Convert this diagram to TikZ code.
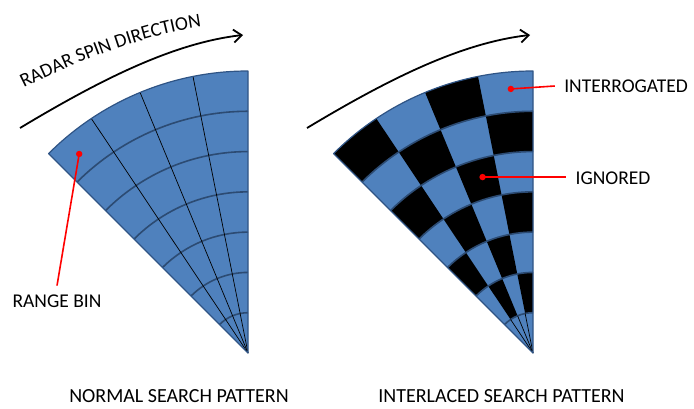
\documentclass[tikz,border=0pt]{standalone}
\usepackage{fontspec}
\setmainfont{Carlito}
\usetikzlibrary{arrows.meta,calc,decorations.text}
\definecolor{sectorfill}{HTML}{4F81BD}
\definecolor{sectorline}{HTML}{2F5485}
\definecolor{ringline}{HTML}{2C4B73}
\definecolor{pointred}{HTML}{FF0000}

\tikzset{
  sector/.style={draw=sectorline,line width=1.2pt,line join=round},
  ring/.style={draw=ringline,line width=1.6pt},
  spoke/.style={draw=black,line width=0.7pt},
  spin/.style={line width=1.8pt,-{Straight Barb[length=8pt,width=13pt,line width=1.8pt]}},
  tag/.style={font=\fontsize{19.5}{20}\selectfont,inner sep=0pt,outer sep=9.5pt},
  title/.style={font=\fontsize{20}{22}\selectfont,inner sep=0pt},
  pointer/.style={draw=pointred,line width=1.6pt},
  pdot/.style={fill=pointred},
}

\begin{document}
\begin{tikzpicture}[x=1pt,y=1pt]
  \useasboundingbox (0,0) rectangle (694,408);
  \def\rad{282}
  \def\gap{40.2857}
  \coordinate (normapex) at (248,55);
  \coordinate (interapex) at (533,55);

  % normal search pattern
  \begin{scope}[shift={(normapex)}]
    \fill[sectorfill] (0,0) -- (90:\rad) arc[start angle=90,end angle=135,radius=\rad] -- cycle;
    \foreach \k in {1,...,6}
      \draw[ring] ({90}:{\k*\gap}) arc[start angle=90,end angle=135,radius={\k*\gap}];
    \foreach \a in {101.25,112.5,123.75}
      \draw[spoke] (0,0) -- (\a:\rad);
    \draw[sector] (0,0) -- (90:\rad) arc[start angle=90,end angle=135,radius=\rad] -- cycle;
  \end{scope}

  % interlaced search pattern
  \begin{scope}[shift={(interapex)}]
    \fill[sectorfill] (0,0) -- (90:\rad) arc[start angle=90,end angle=135,radius=\rad] -- cycle;
    \foreach \i in {2,...,7}
      \foreach \j in {1,...,4} {
        \pgfmathtruncatemacro\odd{mod(\i+\j,2)}
        \ifnum\odd=1
          \fill[black] ({90+(\j-1)*11.25}:{(\i-1)*\gap})
            arc[start angle={90+(\j-1)*11.25},end angle={90+\j*11.25},radius={(\i-1)*\gap}]
            -- ({90+\j*11.25}:{\i*\gap})
            arc[start angle={90+\j*11.25},end angle={90+(\j-1)*11.25},radius={\i*\gap}] -- cycle;
        \fi
      }
    \foreach \k in {1,...,6}
      \draw[ring] ({90}:{\k*\gap}) arc[start angle=90,end angle=135,radius={\k*\gap}];
    \foreach \a in {101.25,112.5,123.75}
      \draw[spoke] (0,0) -- (\a:\gap);
    \draw[sector] (0,0) -- (90:\rad) arc[start angle=90,end angle=135,radius=\rad] -- cycle;
  \end{scope}

  % spin arrows
  \foreach \dx in {0,287}
    \draw[spin] (\dx+20,280) .. controls (\dx+100,328) and (\dx+173,365) .. (\dx+243,373);
  \path[decorate,decoration={text along path,text align=left,
      text={|\fontsize{19.5}{20}\selectfont|RADAR SPIN DIRECTION}}]
    (24,320) .. controls (90,353) and (160,378) .. (218,383);

  % labels
  \coordinate (bindot) at ($(normapex)+(130.3:261)$);
  \coordinate (interdot) at ($(interapex)+(94.8:265)$);
  \coordinate (igndot) at ($(interapex)+(106:183)$);
  \node[tag] (rangebin) at (57,106.5) {RANGE BIN};
  \node[tag] (interr) at (626,322) {INTERROGATED};
  \node[tag] (ignored) at (613,229.5) {IGNORED};
  \node[title] (normal) at (179,12) {NORMAL SEARCH PATTERN};
  \node[title] (interl) at (501.5,12) {INTERLACED SEARCH PATTERN};

  \draw[pointer] (bindot) -- (rangebin.north);
  \draw[pointer] (interdot) -- (interr.west);
  \draw[pointer] (igndot) -- (igndot -| ignored.west);
  \foreach \p in {bindot,interdot,igndot}
    \fill[pdot] (\p) circle (3.2);
\end{tikzpicture}
\end{document}
